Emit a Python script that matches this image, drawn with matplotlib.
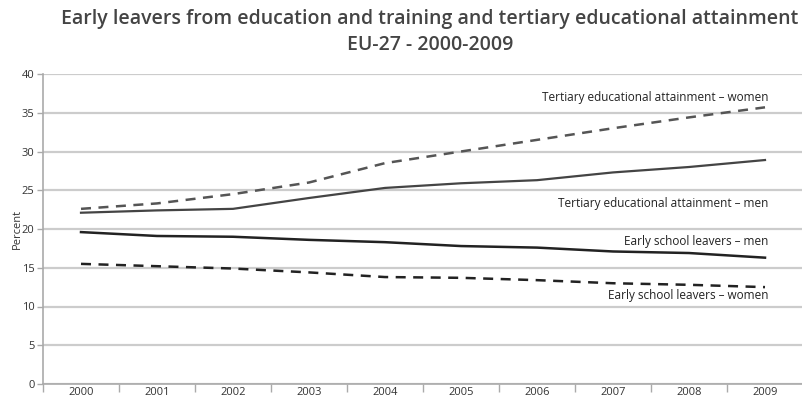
import matplotlib
matplotlib.use("Agg")
import matplotlib.pyplot as plt
from matplotlib import font_manager

years = ["2000", "2001", "2002", "2003", "2004", "2005", "2006", "2007", "2008", "2009"]
tertiary_women = [22.6, 23.3, 24.5, 26.0, 28.5, 30.0, 31.5, 33.0, 34.4, 35.7]
tertiary_men = [22.1, 22.4, 22.6, 24.0, 25.3, 25.9, 26.3, 27.3, 28.0, 28.9]
early_men = [19.6, 19.1, 19.0, 18.6, 18.3, 17.8, 17.6, 17.1, 16.9, 16.3]
early_women = [15.5, 15.2, 14.9, 14.4, 13.8, 13.7, 13.4, 13.0, 12.8, 12.5]
yticks = [0, 5, 10, 15, 20, 25, 30, 35, 40]

names = {f.name for f in font_manager.fontManager.ttflist}
narrow = "Liberation Sans Narrow" if "Liberation Sans Narrow" in names else "Open Sans"
plt.rcParams["font.family"] = ["Open Sans", "DejaVu Sans"]

fig = plt.figure(figsize=(8.02, 3.97), dpi=100)
ax = fig.add_axes([43/802, 1 - 384/397, 760/802, 310/397])

x = list(range(len(years)))
ax.plot(x, tertiary_women, color="#555555", lw=1.8, ls=(0, (4, 3)))
ax.plot(x, tertiary_men, color="#444444", lw=1.6, ls="-")
ax.plot(x, early_men, color="#222222", lw=1.8, ls="-")
ax.plot(x, early_women, color="#222222", lw=1.8, ls=(0, (4, 3)))

ax.set_xlim(-0.5, 9.5)
ax.set_ylim(0, 40)
ax.set_yticks(yticks)
ax.set_yticklabels([str(v) for v in yticks], fontsize=8, color="#333333")
ax.yaxis.grid(True, color="#cccccc", lw=1.6)
ax.set_axisbelow(True)
ax.set_xticks(x)
ax.set_xticklabels(years, fontsize=8, color="#333333")
ax.tick_params(axis="x", length=0, pad=2)
ax.set_xticks([i + 0.5 for i in range(-1, 9)], minor=True)
ax.tick_params(axis="x", which="minor", length=6, color="#aaaaaa", width=1)
ax.tick_params(axis="y", length=4, color="#aaaaaa", width=1, pad=2)
for s in ["top", "right"]:
    ax.spines[s].set_visible(False)
for s in ["left", "bottom"]:
    ax.spines[s].set_color("#aaaaaa")
    ax.spines[s].set_linewidth(1.2)
ax.set_ylabel("Percent", fontsize=8, color="#333333", labelpad=-1)

lab_kw = dict(ha="right", va="center", fontsize=8.5, color="#222222", family=[narrow, "DejaVu Sans"])
ax.text(9.04, 37.0, "Tertiary educational attainment \u2013 women", **lab_kw)
ax.text(9.04, 23.3, "Tertiary educational attainment \u2013 men", **lab_kw)
ax.text(9.04, 18.4, "Early school leavers \u2013 men", **lab_kw)
ax.text(9.04, 11.4, "Early school leavers \u2013 women", **lab_kw)

fig.text(430/802, 1 - 19/397, "Early leavers from education and training and tertiary educational attainment",
         ha="center", va="center", fontsize=14, color="#444444", fontweight="semibold")
fig.text(430/802, 1 - 45/397, "EU-27 - 2000-2009",
         ha="center", va="center", fontsize=14, color="#444444", fontweight="semibold")

fig.savefig("out.png", dpi=100)
